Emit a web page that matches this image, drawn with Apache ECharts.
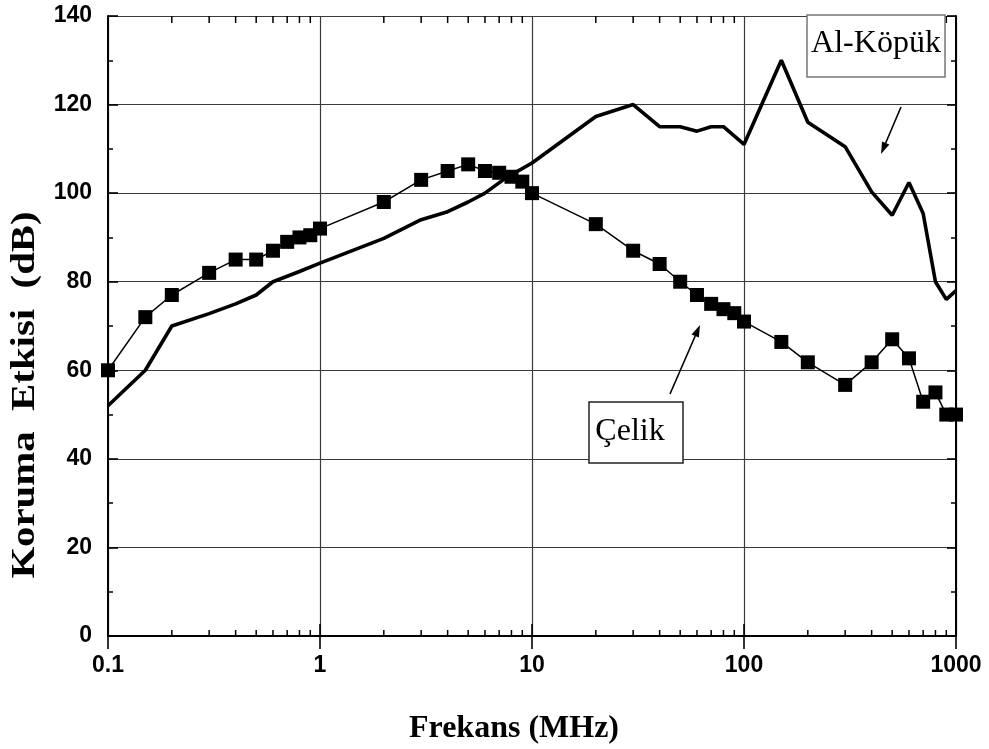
<!DOCTYPE html>
<html>
<head>
<meta charset="utf-8">
<script src="https://cdn.jsdelivr.net/npm/echarts@6/dist/echarts.min.js"></script>
<style>
html,body{margin:0;padding:0;background:#fff;}
#chart{width:989px;height:749px;}
</style>
</head>
<body>
<div id="chart"></div>
<script>
// ---- data ----
const celikX = [0.1,0.15,0.2,0.3,0.4,0.5,0.6,0.7,0.8,0.9,1,2,3,4,5,6,7,8,9,10,20,30,40,50,60,70,80,90,100,150,200,300,400,500,600,700,800,900,1000];
const celikY = [60,72,77,82,85,85,87,89,90,90.5,92,98,103,105,106.5,105,104.6,103.7,102.6,100,93,87,84,80,77,75,73.8,72.9,71,66.4,61.8,56.7,61.8,67,62.7,52.9,55,50,50];
const alX = [0.1,0.15,0.2,0.3,0.4,0.5,0.6,0.8,1,2,3,4,5,6,7.5,10,20,30,40,50,60,70,80,100,150,200,300,400,500,600,700,800,900,1000];
const alY = [52,60,70,72.8,75,77,80,82.3,84.2,89.8,94,95.8,98,100,103.4,106.8,117.3,120,115,115,114,115,115,111,130,116,110.5,100.3,95,102.4,95.4,80,76,78];
const xTickLabels = [0.1,1,10,100,1000];
const xMinorTicks = [0.2,0.3,0.4,0.5,0.6,0.7,0.8,0.9,2,3,4,5,6,7,8,9,20,30,40,50,60,70,80,90,200,300,400,500,600,700,800,900];
const yMin = 0, yMax = 140, yStep = 20;
const xTitle = 'Frekans (MHz)';
const yTitle = 'Koruma  Etkisi  (dB)';
const labelAl = 'Al-Köpük';
const labelCelik = 'Çelik';

const zip = (xs, ys) => xs.map((x, i) => [x, ys[i]]);

function arrow(x1, y1, x2, y2) {
  const dx = x2 - x1, dy = y2 - y1, L = Math.hypot(dx, dy);
  const ux = dx / L, uy = dy / L, nx = -uy, ny = ux;
  const hl = 12, hw = 4;
  const bx = x2 - hl * ux, by = y2 - hl * uy;
  return [
    {type:'line', shape:{x1:x1,y1:y1,x2:bx,y2:by}, style:{stroke:'#000',lineWidth:1.6}, z:100},
    {type:'polygon', shape:{points:[[x2,y2],[bx+hw*nx,by+hw*ny],[bx-hw*nx,by-hw*ny]]}, style:{fill:'#000'}, z:100}
  ];
}

const chart = echarts.init(document.getElementById('chart'), null, {renderer:'canvas'});
const axisFont = {fontFamily:'Liberation Sans, Arial, sans-serif', fontWeight:'bold', fontSize:23, color:'#000'};
const fmt = v => String(+(+v).toPrecision(3));

const option = {
  animation:false,
  backgroundColor:'#fff',
  grid:{left:108, right:33, top:16, bottom:113, containLabel:false},
  xAxis:[
    {type:'log', logBase:10, min:0.1, max:1000, position:'bottom',
     axisLine:{show:true, lineStyle:{color:'#000', width:2}},
     axisTick:{show:true, inside:true, length:12, lineStyle:{color:'#000', width:1.6}},
     axisLabel:Object.assign({show:true, margin:18, formatter:fmt, showMinLabel:true, showMaxLabel:true}, axisFont),
     splitLine:{show:true, lineStyle:{color:'#3a3a3a', width:1.2}}},
    {type:'log', logBase:10, min:0.1, max:1000, position:'top',
     axisLine:{show:true, lineStyle:{color:'#000', width:2}},
     axisTick:{show:true, inside:true, length:13, lineStyle:{color:'#000', width:1.6}},
     axisLabel:{show:false}, splitLine:{show:false}}
  ],
  yAxis:[
    {type:'value', min:yMin, max:yMax, interval:yStep, position:'left',
     axisLine:{show:true, lineStyle:{color:'#000', width:2}},
     axisTick:{show:true, inside:true, length:10, lineStyle:{color:'#000', width:1.6}},
     minorTick:{show:true, splitNumber:2, length:5, lineStyle:{color:'#000', width:1.5}},
     axisLabel:Object.assign({show:true, margin:16}, axisFont),
     splitLine:{show:true, lineStyle:{color:'#3a3a3a', width:1.2}}},
    {type:'value', min:yMin, max:yMax, interval:yStep, position:'right',
     axisLine:{show:true, lineStyle:{color:'#000', width:2}},
     axisTick:{show:true, inside:true, length:9, lineStyle:{color:'#000', width:1.6}},
     minorTick:{show:true, splitNumber:2, length:5, lineStyle:{color:'#000', width:1.5}},
     axisLabel:{show:false}, splitLine:{show:false}}
  ],
  series:[
    {type:'custom', xAxisIndex:0, yAxisIndex:0, silent:true, z:5,
     data:xMinorTicks.map(v => [v, yMin]),
     renderItem:(params, api) => {
       const v = api.value(0);
       const b = api.coord([v, yMin]);
       const t = api.coord([v, yMax]);
       return {type:'group', children:[
         {type:'line', shape:{x1:b[0], y1:b[1], x2:b[0], y2:b[1]-6}, style:{stroke:'#000', lineWidth:1.5}},
         {type:'line', shape:{x1:t[0], y1:t[1], x2:t[0], y2:t[1]+7}, style:{stroke:'#000', lineWidth:1.5}}
       ]};
     }},
    {name:labelAl, type:'line', data:zip(alX, alY), symbol:'none', showSymbol:false,
     lineStyle:{color:'#000', width:3.6}, z:3, clip:false},
    {name:labelCelik, type:'line', data:zip(celikX, celikY), symbol:'rect', symbolSize:14,
     showAllSymbol:true, itemStyle:{color:'#000'}, lineStyle:{color:'#000', width:1.5}, z:4, clip:false}
  ],
  graphic:[
    {type:'rect', shape:{x:807, y:15, width:138, height:62}, style:{fill:'#fff', stroke:'#777', lineWidth:1.5}, z:90},
    {type:'text', x:876, y:44, style:{text:labelAl, font:'32px "Liberation Serif", "Times New Roman", serif', fill:'#000', align:'center', verticalAlign:'middle'}, z:91},
    {type:'rect', shape:{x:589, y:402, width:94, height:61}, style:{fill:'#fff', stroke:'#222', lineWidth:1.5}, z:90},
    {type:'text', x:630, y:432, style:{text:labelCelik, font:'32px "Liberation Serif", "Times New Roman", serif', fill:'#000', align:'center', verticalAlign:'middle'}, z:91},
    ...arrow(901, 107, 881, 154),
    ...arrow(670, 394, 700, 325),
    {type:'text', x:514, y:729, style:{text:xTitle, font:'bold 32px "Liberation Serif", "Times New Roman", serif', fill:'#000', align:'center', verticalAlign:'middle'}, z:91},
    {type:'text', x:25, y:395, rotation:Math.PI/2, scaleX:1.2, style:{text:yTitle, font:'bold 34px "Liberation Serif", "Times New Roman", serif', fill:'#000', align:'center', verticalAlign:'middle'}, z:91}
  ]
};
chart.setOption(option);
</script>
</body>
</html>
